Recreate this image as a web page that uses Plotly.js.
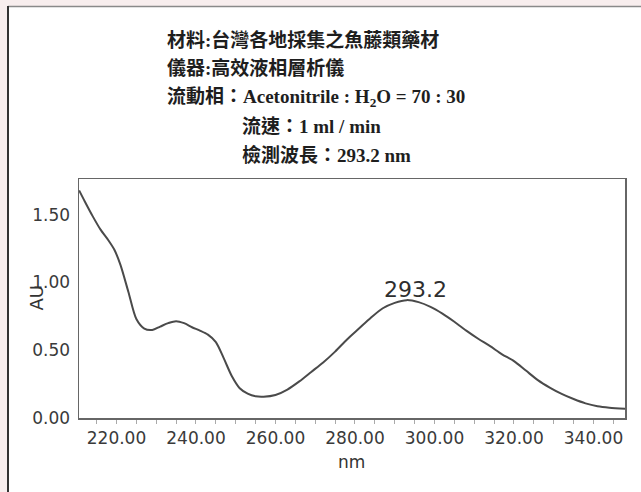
<!DOCTYPE html>
<html>
<head>
<meta charset="utf-8">
<script src="https://cdn.plot.ly/plotly-3.0.1.min.js"></script>
<style>
html,body{margin:0;padding:0;background:#f8eeee;}
#chart{width:641px;height:492px;}
</style>
</head>
<body>
<div id="chart"></div>
<script>
// Wavelength (nm) and absorbance (AU)
var wavelength = [210.6, 212, 214, 216, 218, 219.5, 221, 223, 225, 227, 229, 231, 233, 235, 237, 239, 241, 243, 245, 247, 249, 251, 253, 255, 257, 260, 263, 266, 269, 272, 275, 278, 281, 284, 287, 290, 293, 296, 299, 302, 305, 308, 311, 314, 317, 320, 323, 326, 329, 332, 335, 338, 341, 344, 348];
var absorbance = [1.68, 1.60, 1.49, 1.39, 1.31, 1.24, 1.13, 0.93, 0.73, 0.66, 0.65, 0.675, 0.70, 0.715, 0.70, 0.67, 0.645, 0.615, 0.56, 0.44, 0.31, 0.22, 0.18, 0.16, 0.157, 0.17, 0.21, 0.27, 0.34, 0.41, 0.49, 0.58, 0.66, 0.74, 0.81, 0.85, 0.87, 0.855, 0.82, 0.77, 0.71, 0.645, 0.585, 0.53, 0.47, 0.42, 0.35, 0.28, 0.225, 0.178, 0.14, 0.108, 0.087, 0.076, 0.068];

var peakLabel = "293.2";
var xTitle = "nm";
var yTitle = "AU";
var titleLines = [
  "材料:台灣各地採集之魚藤類藥材",
  "儀器:高效液相層析儀",
  "流動相：Acetonitrile : H<sub>2</sub>O = 70 : 30",
  "流速：1 ml / min",
  "檢測波長：293.2 nm"
];

var W = 641, H = 492;
var L = 79, R = 16, T = 179, B = 74;
var pw = W - L - R, ph = H - T - B;
function px(x){ return (x - L) / pw; }
function py(y){ return (H - B - y) / ph; }

var titleFont = {family: "Liberation Serif, 'Noto Sans CJK TC', serif", size: 19, color: "#1e1e1e", weight: "bold"};
var titlePos = [[165, 40], [165, 68.3], [165, 98.3], [240, 126.7], [240, 155]];

var annotations = titlePos.map(function(p, i){
  return {xref: "paper", yref: "paper", x: px(p[0]), y: py(p[1]), xanchor: "left", yanchor: "middle",
          text: titleLines[i], showarrow: false, font: titleFont};
});
annotations.push({xref: "x", yref: "y", x: 295.1, y: 0.952, xanchor: "center", yanchor: "middle",
  text: peakLabel, showarrow: false, font: {family: "DejaVu Sans", size: 22, color: "#2e2e2e"}});
annotations.push({xref: "paper", yref: "paper", x: px(36), y: py(297.5), xanchor: "center", yanchor: "middle",
  text: yTitle, textangle: -90, showarrow: false, font: {family: "DejaVu Sans", size: 18, color: "#333"}});
annotations.push({xref: "paper", yref: "paper", x: px(351), y: py(462), xanchor: "center", yanchor: "middle",
  text: xTitle, showarrow: false, font: {family: "DejaVu Sans", size: 17, color: "#333"}});

var shapes = [
  {type: "rect", xref: "paper", yref: "paper", x0: px(8), x1: px(700), y0: py(7), y1: py(600),
   fillcolor: "#ffffff", line: {width: 0}, layer: "below"},
  {type: "line", xref: "paper", yref: "paper", x0: px(8), x1: px(700), y0: py(6.5), y1: py(6.5),
   line: {color: "#8a8a8a", width: 1.5}, layer: "below"},
  {type: "line", xref: "paper", yref: "paper", x0: px(8), x1: px(8), y0: py(6), y1: py(600),
   line: {color: "#333333", width: 2}, layer: "below"}
];

var trace = {
  x: wavelength, y: absorbance, type: "scatter", mode: "lines",
  line: {color: "#4a4a4a", width: 2, shape: "spline", smoothing: 0.8},
  hoverinfo: "skip"
};

var axisFont = {family: "DejaVu Sans", size: 17, color: "#3a3a3a"};

var layout = {
  width: W, height: H,
  margin: {l: L, r: R, t: T, b: B, pad: 0},
  paper_bgcolor: "#f8eeee",
  plot_bgcolor: "#ffffff",
  showlegend: false,
  xaxis: {
    range: [210.57, 347.93], tick0: 200, dtick: 20, tickformat: ".2f",
    ticks: "outside", ticklen: 4, tickwidth: 1, tickcolor: "#aaaaaa",
    minor: {dtick: 5, ticks: "outside", ticklen: 4, tickcolor: "#aaaaaa", showgrid: false},
    showgrid: false, zeroline: false,
    showline: true, mirror: true, linecolor: "#666666", linewidth: 1.5,
    tickfont: axisFont
  },
  yaxis: {
    range: [0, 1.764], tick0: 0, dtick: 0.5, tickformat: ".2f",
    ticks: "outside", ticklen: 4, tickcolor: "rgba(0,0,0,0)",
    showgrid: false, zeroline: false,
    showline: true, mirror: true, linecolor: "#666666", linewidth: 1.5,
    tickfont: axisFont
  },
  annotations: annotations,
  shapes: shapes
};

Plotly.newPlot("chart", [trace], layout, {staticPlot: true, displayModeBar: false});
</script>
</body>
</html>
